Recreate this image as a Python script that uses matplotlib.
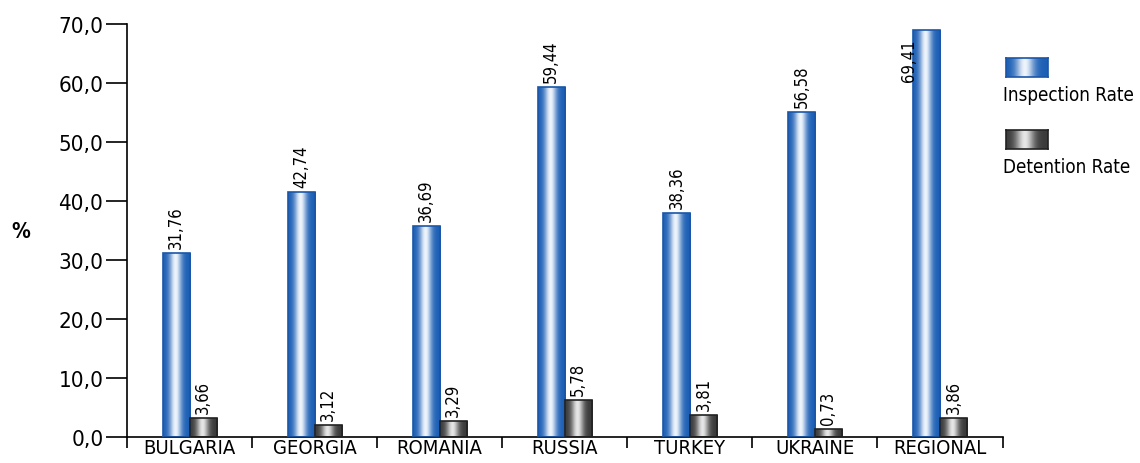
import matplotlib
matplotlib.use("Agg")
import matplotlib.pyplot as plt
import numpy as np

countries = ["BULGARIA", "GEORGIA", "ROMANIA", "RUSSIA", "TURKEY", "UKRAINE", "REGIONAL"]
inspection = [31.2, 41.5, 35.8, 59.3, 38.0, 55.1, 69.0]
detention = [3.2, 2.0, 2.7, 6.3, 3.7, 1.35, 3.2]
inspection_lbl = ["31,76", "42,74", "36,69", "59,44", "38,36", "56,58", "69,41"]
detention_lbl = ["3,66", "3,12", "3,29", "5,78", "3,81", "0,73", "3,86"]

# narrow look like the original: DejaVu Sans Condensed
plt.rcParams["font.family"] = ["DejaVu Sans"]
plt.rcParams["font.stretch"] = "condensed"

def grad(c_edge, c_mid):
    t = np.linspace(0, 1, 64)
    w = np.exp(-((t - 0.45) / 0.22) ** 2)
    e = np.array(matplotlib.colors.to_rgb(c_edge)); m = np.array(matplotlib.colors.to_rgb(c_mid))
    return (e[None, :] * (1 - w[:, None]) + m[None, :] * w[:, None])[None, :, :]

BLUE = grad("#1c5fb5", "#eef4fb")
GREY = grad("#3a3a3a", "#e6e6e6")

def gbars(ax, x, h, w, img, ec):
    bars = ax.bar(x, h, w, facecolor="none", edgecolor=ec, lw=1.2, zorder=3)
    for b in bars:
        x0, y0 = b.get_x(), b.get_y()
        im = ax.imshow(img, extent=[x0, x0 + b.get_width(), y0, y0 + b.get_height()],
                       aspect="auto", zorder=2, interpolation="bilinear")
        im.set_clip_path(b)
    return bars

fig = plt.figure(figsize=(11.4, 4.64), dpi=100)
ax = fig.add_axes([0.1114, 0.056, 0.768, 0.890])

x = np.arange(len(countries))
bw = 0.216
gbars(ax, x - bw / 2, inspection, bw, BLUE, "#1a56a8")
gbars(ax, x + bw / 2, detention, bw, GREY, "#222222")

for i in range(len(countries)):
    if i == len(countries) - 1:
        ax.text(x[i] - bw / 2 - 0.14, inspection[i] - 1.5, inspection_lbl[i], rotation=90,
                ha="center", va="top", fontsize=12)
    else:
        ax.text(x[i] - bw / 2, inspection[i] + 0.9, inspection_lbl[i], rotation=90,
                ha="center", va="bottom", fontsize=12)
    ax.text(x[i] + bw / 2, detention[i] + 0.9, detention_lbl[i], rotation=90,
            ha="center", va="bottom", fontsize=12)

ax.set_xlim(-0.5, len(countries) - 0.5)
ax.set_ylim(0, 70)
ax.set_yticks(np.arange(0, 71, 10))
ax.set_yticklabels([f"{v:.1f}".replace(".", ",") for v in np.arange(0, 71, 10)], fontsize=16)
ax.tick_params(axis="y", length=15, width=1.2, direction="out", pad=2)
ax.set_xticks(np.arange(-0.5, len(countries), 1.0))
ax.set_xticklabels([])
ax.tick_params(axis="x", length=8, width=1.2, direction="out")
ax.set_xticks(x, minor=True)
ax.set_xticklabels(countries, minor=True, fontsize=14.5)
ax.tick_params(axis="x", which="minor", length=0, pad=1)
for s in ("top", "right"):
    ax.spines[s].set_visible(False)
for s in ("left", "bottom"):
    ax.spines[s].set_linewidth(1.2)
ax.spines["left"].set_bounds(0, 70)

fig.text(0.018, 0.5, "%", fontsize=15, fontweight="bold", ha="center", va="center")

# legend
for y0, img, ec, txt in ((0.832, BLUE, "#1a56a8", "Inspection Rate"),
                         (0.677, GREY, "#222222", "Detention Rate")):
    lax = fig.add_axes([0.8825, y0, 0.0365, 0.040])
    lax.imshow(img, aspect="auto", extent=[0, 1, 0, 1], interpolation="bilinear")
    lax.set_xticks([]); lax.set_yticks([])
    for s in lax.spines.values():
        s.set_color(ec); s.set_linewidth(1.2)
    fig.text(0.8798, y0 - 0.018, txt, fontsize=13.5, ha="left", va="top")

fig.savefig("out.png", dpi=100)
